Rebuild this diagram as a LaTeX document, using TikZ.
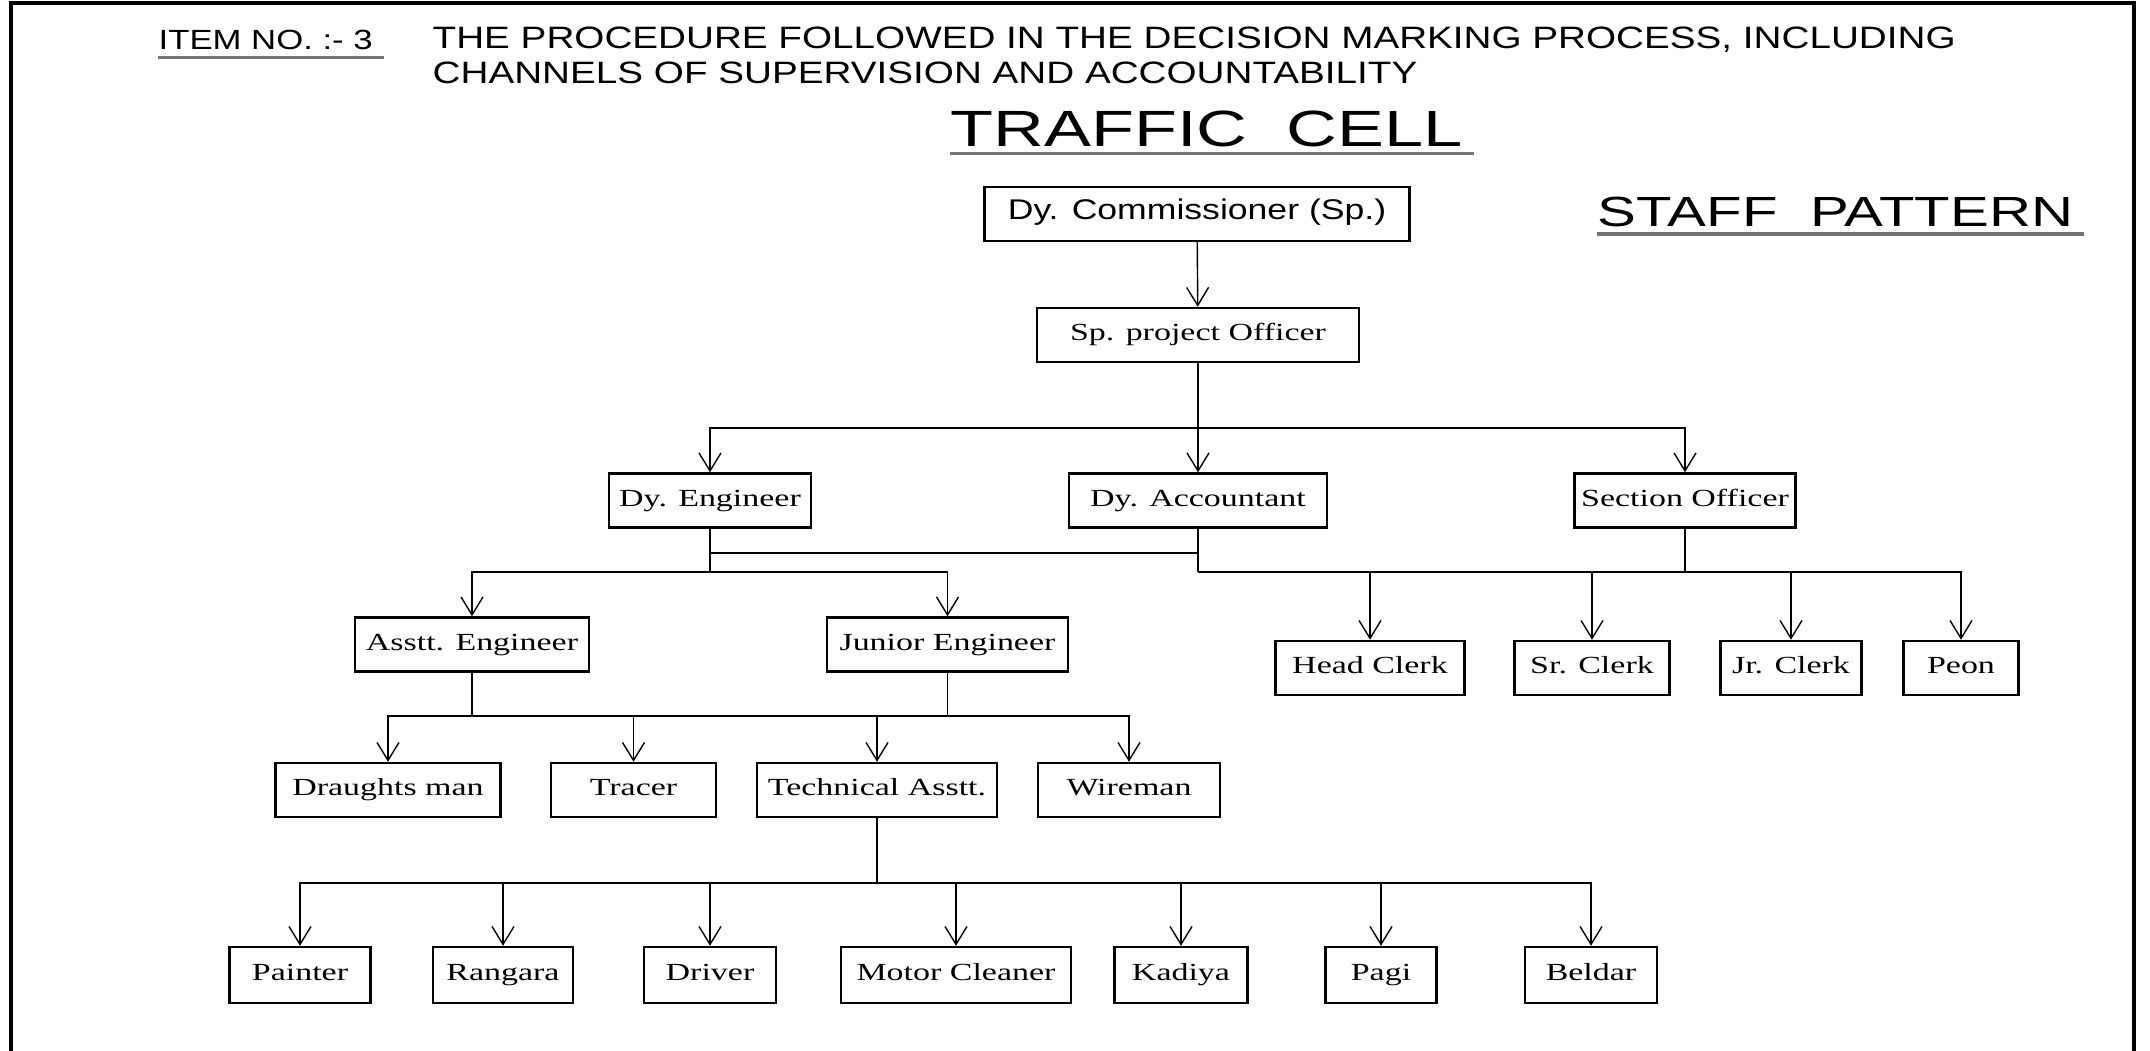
\documentclass[tikz,border=0pt]{standalone}
\usepackage{fontspec}
\usepackage{xcolor}
\usepackage{tikz}
\usetikzlibrary{arrows.meta}
\newfontfamily\headfont[FakeStretch=1.25]{Liberation Sans}
\newfontfamily\bighead[FakeStretch=1.38]{Liberation Sans}
\newfontfamily\boxfont[FakeStretch=1.38]{Liberation Serif}

\begin{document}
\begin{tikzpicture}[rectnode/.style={rectangle, draw=black, line width=0.7pt, fill=white, minimum height=0.54cm, inner sep=0pt, text height=5pt, text depth=1.6pt, font=\boxfont\fontsize{7}{8}\selectfont}, headtext/.style={anchor=west, inner sep=0pt, font=\headfont\fontsize{8.8}{10}\selectfont}, arrowline/.style={-{Straight Barb[length=1.8mm, width=2.2mm]}, line width=0.4pt}, busline/.style={line width=0.4pt}, underline/.style={draw=black!55, line width=1pt}]
\useasboundingbox (0,0) rectangle (21.5,10.51);

\draw[line width=1pt] (0.11,0) -- (0.11,10.48) -- (21.34,10.48) -- (21.34,0);

\node[headtext, font=\headfont\fontsize{7.9}{10}\selectfont] (itemno) at (1.58, 10.11) {ITEM NO. :- 3};
\node[headtext] (headone) at (4.32, 10.11) {THE PROCEDURE FOLLOWED IN THE DECISION MARKING PROCESS, INCLUDING};
\node[headtext] (headtwo) at (4.32, 9.78) {CHANNELS OF SUPERVISION AND ACCOUNTABILITY};
\node[headtext, font=\bighead\fontsize{14.5}{16}\selectfont] (cell) at (9.50, 9.22) {TRAFFIC\ \ CELL};
\node[headtext, font=\bighead\fontsize{12}{14}\selectfont] (staff) at (15.97, 8.39) {STAFF\ \ PATTERN};
\draw[underline] ([yshift=-2pt]itemno.south west) -- ([xshift=3pt, yshift=-2pt]itemno.south east);
\draw[underline] ([yshift=-1.6pt]cell.south west) -- ([xshift=3pt, yshift=-1.6pt]cell.south east);
\draw[underline] ([yshift=-1.8pt]staff.south west) -- ([xshift=3pt, yshift=-1.8pt]staff.south east);

\node[rectnode, minimum width=4.25cm, font=\headfont\fontsize{8.1}{9}\selectfont] (comm) at (11.97, 8.37) {Dy. Commissioner (Sp.)};
\node[rectnode, minimum width=3.22cm] (spo) at (11.98, 7.16) {Sp. project Officer};

\node[rectnode, minimum width=2.02cm] (deng) at (7.10, 5.505) {Dy. Engineer};
\node[rectnode, minimum width=2.58cm] (dacc) at (11.98, 5.505) {Dy. Accountant};
\node[rectnode, minimum width=2.21cm] (sec) at (16.85, 5.505) {Section Officer};

\node[rectnode, minimum width=2.34cm] (aeng) at (4.72, 4.065) {Asstt. Engineer};
\node[rectnode, minimum width=2.41cm] (jeng) at (9.475, 4.065) {Junior Engineer};
\node[rectnode, minimum width=1.89cm] (head) at (13.70, 3.83) {Head Clerk};
\node[rectnode, minimum width=1.55cm] (srclerk) at (15.92, 3.83) {Sr. Clerk};
\node[rectnode, minimum width=1.41cm] (jrclerk) at (17.91, 3.83) {Jr. Clerk};
\node[rectnode, minimum width=1.15cm] (peon) at (19.61, 3.83) {Peon};

\node[rectnode, minimum width=2.25cm] (drau) at (3.88, 2.61) {Draughts man};
\node[rectnode, minimum width=1.65cm] (tracer) at (6.335, 2.61) {Tracer};
\node[rectnode, minimum width=2.40cm] (tech) at (8.77, 2.61) {Technical Asstt.};
\node[rectnode, minimum width=1.82cm] (wire) at (11.29, 2.61) {Wireman};

\node[rectnode, minimum width=1.41cm, minimum height=0.56cm] (painter) at (3.00, 0.76) {Painter};
\node[rectnode, minimum width=1.40cm, minimum height=0.56cm] (rangara) at (5.03, 0.76) {Rangara};
\node[rectnode, minimum width=1.32cm, minimum height=0.56cm] (driver) at (7.10, 0.76) {Driver};
\node[rectnode, minimum width=2.30cm, minimum height=0.56cm] (motor) at (9.56, 0.76) {Motor Cleaner};
\node[rectnode, minimum width=1.33cm, minimum height=0.56cm] (kadiya) at (11.81, 0.76) {Kadiya};
\node[rectnode, minimum width=1.11cm, minimum height=0.56cm] (pagi) at (13.81, 0.76) {Pagi};
\node[rectnode, minimum width=1.32cm, minimum height=0.56cm] (beldar) at (15.91, 0.76) {Beldar};

\coordinate (spobus) at (11.98, 6.23);
\coordinate (englink) at (7.10, 4.98);
\coordinate (dengbus) at (7.10, 4.79);
\coordinate (accbus) at (11.98, 4.79);
\coordinate (aengbus) at (4.72, 3.35);
\coordinate (jengbus) at (9.475, 3.35);
\coordinate (techbus) at (8.77, 1.68);

\draw[arrowline] (comm) -- (spo);
\draw[arrowline] (spo) -- (dacc);
\draw[arrowline] (spobus) -| (deng);
\draw[arrowline] (spobus) -| (sec);

\draw[busline] (deng) -- (dengbus);
\draw[busline] (englink) -- (englink -| dacc);
\draw[arrowline] (dengbus) -| (aeng);
\draw[arrowline] (dengbus) -| (jeng);

\draw[busline] (dacc) -- (accbus);
\draw[busline] (sec) -- (sec |- accbus);
\draw[arrowline] (accbus) -| (head);
\draw[arrowline] (accbus) -| (srclerk);
\draw[arrowline] (accbus) -| (jrclerk);
\draw[arrowline] (accbus) -| (peon);

\draw[busline] (aeng) -- (aengbus);
\draw[busline] (jeng) -- (jengbus);
\draw[busline] (aengbus) -- (jengbus);
\draw[arrowline] (aengbus) -| (drau);
\draw[arrowline] (aengbus) -| (tracer);
\draw[arrowline] (jengbus) -| (tech);
\draw[arrowline] (jengbus) -| (wire);

\draw[busline] (tech) -- (techbus);
\draw[arrowline] (techbus) -| (painter);
\draw[arrowline] (techbus) -| (rangara);
\draw[arrowline] (techbus) -| (driver);
\draw[arrowline] (techbus) -| (motor);
\draw[arrowline] (techbus) -| (kadiya);
\draw[arrowline] (techbus) -| (pagi);
\draw[arrowline] (techbus) -| (beldar);

\end{tikzpicture}
\end{document}
